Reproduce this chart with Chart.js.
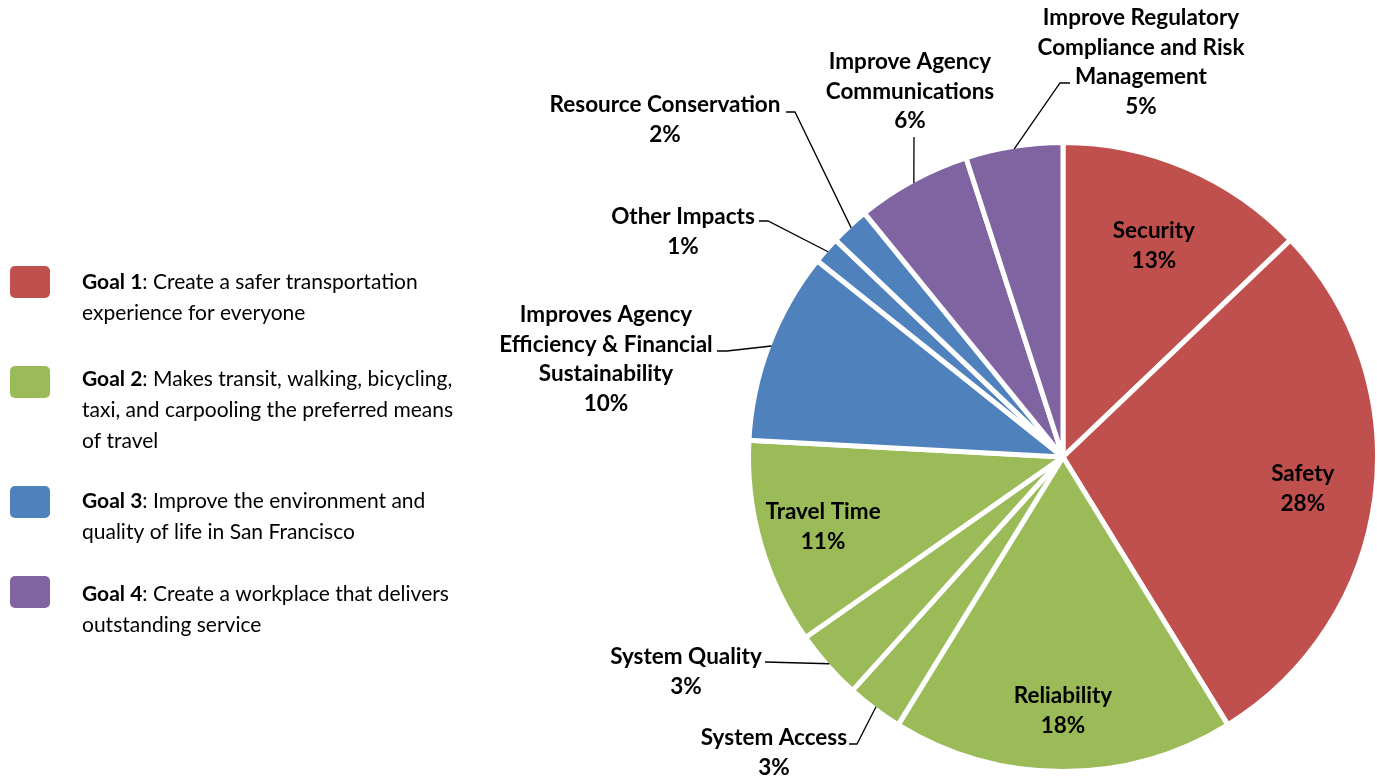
<!DOCTYPE html>
<html>
<head>
<meta charset="utf-8">
<script src="https://cdn.jsdelivr.net/npm/chart.js@4.4.1/dist/chart.umd.min.js"></script>
<style>
  html, body { margin: 0; padding: 0; background: #fff; overflow: hidden; }
  #wrap { position: absolute; left: 0; top: 0; width: 1377px; height: 779px; }
</style>
</head>
<body>
<div id="wrap"><canvas id="goalsPie" width="1377" height="779"></canvas></div>
<script>
// slices, clockwise from 12 o'clock
var categories = ['Security', 'Safety', 'Reliability', 'System Access', 'System Quality',
  'Travel Time', 'Improves Agency Efficiency & Financial Sustainability', 'Other Impacts',
  'Resource Conservation', 'Improve Agency Communications',
  'Improve Regulatory Compliance and Risk Management'];
var shares = [12.9, 28.4, 17.6, 2.9, 3.6, 10.6, 9.9, 1.4, 2.0, 5.9, 5.0];
var pctLabels = ['13%', '28%', '18%', '3%', '3%', '11%', '10%', '1%', '2%', '6%', '5%'];
var goalOf = [0, 0, 1, 1, 1, 1, 2, 2, 2, 3, 3];

var goalNames = ['Goal 1', 'Goal 2', 'Goal 3', 'Goal 4'];
var goalTexts = [
  [': Create a safer transportation', 'experience for everyone'],
  [': Makes transit, walking, bicycling,', 'taxi, and carpooling the preferred means', 'of travel'],
  [': Improve the environment and', 'quality of life in San Francisco'],
  [': Create a workplace that delivers', 'outstanding service']
];
var goalColors = ['#C0504D', '#9BBB59', '#4F81BD', '#8064A2'];

// label placement (layout only)
var labelLayout = [
  { inside: 0.74 },
  { inside: 0.775 },
  { inside: 0.81 },
  { x: 774, y: 745, lines: ['System Access'], lead: [[849, 744], [857, 744]] },
  { x: 686, y: 664, lines: ['System Quality'], lead: [[765, 662]] },
  { inside: 0.80 },
  { x: 606, y: 322, lines: ['Improves Agency', 'Efficiency & Financial', 'Sustainability'], lead: [[717, 351], [727, 351]] },
  { x: 683, y: 224, lines: ['Other Impacts'], lead: [[759, 221], [768, 221]] },
  { x: 665, y: 112, lines: ['Resource Conservation'], lead: [[786, 112], [795, 112]] },
  { x: 910, y: 69, lines: ['Improve Agency', 'Communications'], lead: [[914, 137]] },
  { x: 1141, y: 25, lines: ['Improve Regulatory', 'Compliance and Risk', 'Management'], lead: [[1070, 83], [1060, 83]] }
];
var insideNames = { 0: ['Security'], 1: ['Safety'], 2: ['Reliability'], 5: ['Travel Time'] };

var LABEL_FONT = 'bold 22.5px Lato';
var LINE_H = 29.7;
var BORDER = 5;

var sliceLabels = {
  id: 'sliceLabels',
  afterDatasetsDraw: function(chart) {
    var ctx = chart.ctx;
    var arcs = chart.getDatasetMeta(0).data;
    ctx.save();
    ctx.fillStyle = '#000';
    ctx.font = LABEL_FONT;
    ctx.textAlign = 'center';
    ctx.textBaseline = 'alphabetic';
    arcs.forEach(function(arc, i) {
      var p = arc.getProps(['x', 'y', 'startAngle', 'endAngle', 'outerRadius'], true);
      var mid = (p.startAngle + p.endAngle) / 2;
      var lay = labelLayout[i];
      var visR = p.outerRadius - BORDER / 2;
      if (lay.inside) {
        var r = visR * lay.inside;
        var cx = p.x + Math.cos(mid) * r;
        var cy = p.y + Math.sin(mid) * r;
        var lines = insideNames[i].concat([pctLabels[i]]);
        var top = cy - (lines.length - 1) * LINE_H / 2 + 8;
        lines.forEach(function(t, k) { ctx.fillText(t, cx, top + k * LINE_H); });
      } else {
        var all = lay.lines.concat([pctLabels[i]]);
        all.forEach(function(t, k) { ctx.fillText(t, lay.x, lay.y + k * LINE_H); });
        var ex = p.x + Math.cos(mid) * visR;
        var ey = p.y + Math.sin(mid) * visR;
        ctx.beginPath();
        ctx.lineWidth = 1.3;
        ctx.strokeStyle = '#000';
        ctx.moveTo(lay.lead[0][0], lay.lead[0][1]);
        for (var k = 1; k < lay.lead.length; k++) ctx.lineTo(lay.lead[k][0], lay.lead[k][1]);
        ctx.lineTo(ex, ey);
        ctx.stroke();
      }
    });
    ctx.restore();
  }
};

var goalLegend = {
  id: 'goalLegend',
  afterDraw: function(chart) {
    var ctx = chart.ctx;
    var boxTops = [266, 366, 486, 576];
    var firstBase = [289, 386, 508, 601];
    ctx.save();
    goalNames.forEach(function(name, g) {
      ctx.fillStyle = goalColors[g];
      ctx.beginPath();
      ctx.roundRect(10, boxTops[g], 40, 32, 5);
      ctx.fill();
      ctx.fillStyle = '#000';
      ctx.textAlign = 'left';
      ctx.textBaseline = 'alphabetic';
      goalTexts[g].forEach(function(t, k) {
        var y = firstBase[g] + k * 31;
        var x = 82;
        if (k === 0) {
          ctx.font = 'bold 21px Lato';
          ctx.fillText(name, x, y);
          x += ctx.measureText(name).width;
        }
        ctx.font = '21px Lato';
        ctx.fillText(t, x, y);
      });
    });
    ctx.restore();
  }
};

var ctx = document.getElementById('goalsPie').getContext('2d');
var goalsPie = new Chart(ctx, {
  type: 'pie',
  data: {
    labels: categories,
    datasets: [{
      data: shares,
      backgroundColor: goalOf.map(function(g) { return goalColors[g]; }),
      borderColor: '#fff',
      borderWidth: BORDER,
      radius: 312 + BORDER / 2,
      clip: false
    }]
  },
  options: {
    responsive: false,
    animation: false,
    layout: { padding: { left: 749, right: 0, top: 140, bottom: 5 } },
    plugins: {
      legend: { display: false },
      tooltip: { enabled: false }
    }
  },
  plugins: [sliceLabels, goalLegend]
});
</script>
</body>
</html>
